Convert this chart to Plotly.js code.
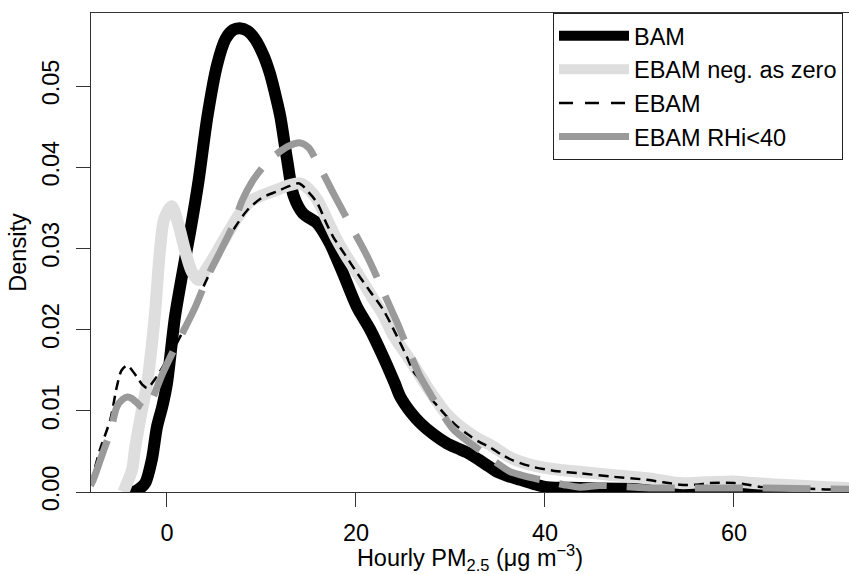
<!DOCTYPE html>
<html><head><meta charset="utf-8">
<script src="https://cdn.plot.ly/plotly-3.0.1.min.js"></script>
<style>html,body{margin:0;padding:0;background:#fff}#chart{width:849px;height:574px}</style>
</head><body><div id="chart"></div>
<script>
const seriesNames = ["BAM", "EBAM neg. as zero", "EBAM", "EBAM RHi<40"];

const bamX = [-4.0, -3.3, -2.8, -2.3, -1.6, -1.06, -0.5, 0, 0.85, 1.9, 2.43, 3.3, 4.3, 5.3, 6.2, 7.0, 7.7, 8.5, 9.3, 10.2, 10.9, 11.6, 12.0, 12.7, 13.4, 14.4, 15.9, 17.2, 18.6, 20.1, 21.5, 22.9, 24.1, 24.7, 25.8, 26.8, 28.2, 29.6, 30.7, 31.7, 33.1, 34.0, 34.9, 36.0, 37.4, 38.8, 40.2, 43.7, 48, 52, 56, 60, 65, 70, 74];
const bamY = [0, 0.0001, 0.0005, 0.0011, 0.004, 0.008, 0.0105, 0.0134, 0.0216, 0.0286, 0.0319, 0.038, 0.0464, 0.0526, 0.0558, 0.0569, 0.0571, 0.0568, 0.0558, 0.0538, 0.0515, 0.0483, 0.0462, 0.041, 0.0365, 0.0343, 0.0331, 0.0307, 0.027, 0.0228, 0.02, 0.0166, 0.0134, 0.0117, 0.0098, 0.0085, 0.0071, 0.006, 0.0054, 0.0049, 0.0039, 0.0032, 0.0025, 0.002, 0.0015, 0.001, 0.0006, 0.0005, 0.0004, 0.0004, 0.0003, 0.0002, 0.0002, 0.0001, 0.0001];

const negZeroX = [-4.6, -4.4, -3.7, -3.4, -2.7, -2.1, -1.3, -0.74, -0.3, 0.5, 1.2, 1.9, 2.6, 3.3, 4.2, 5.4, 6.5, 7.5, 8.8, 10, 11.6, 13, 14.1, 15, 15.9, 17, 18, 19, 20.4, 21.6, 22.9, 24, 25.7, 27.5, 28.5, 29.6, 30.5, 31.7, 33, 34.2, 35.4, 36.6, 38.7, 41, 43.7, 47, 50.8, 52.5, 54.3, 57, 59.9, 62, 64.9, 68, 72, 74];
const negZeroY = [0, 0.0006, 0.0027, 0.0052, 0.0098, 0.0134, 0.0216, 0.0298, 0.0336, 0.0352, 0.033, 0.0298, 0.0272, 0.0261, 0.0275, 0.0298, 0.032, 0.0339, 0.0358, 0.0365, 0.0372, 0.0378, 0.038, 0.0373, 0.036, 0.0334, 0.031, 0.029, 0.0265, 0.0242, 0.0218, 0.0192, 0.0163, 0.013, 0.0113, 0.0096, 0.0086, 0.0075, 0.0065, 0.0058, 0.0049, 0.0041, 0.0033, 0.0028, 0.0025, 0.0021, 0.0017, 0.0014, 0.0011, 0.0012, 0.0013, 0.0011, 0.0009, 0.0007, 0.0005, 0.0004];

const ebamX = [-8.1, -7.9, -7.1, -6.0, -5.3, -4.8, -4.2, -3.7, -3.2, -2.6, -2.1, -1.2, -0.2, 0.8, 1.6, 2.7, 3.7, 5.4, 7.2, 8.5, 10, 11.6, 13, 14, 15, 15.9, 16.9, 17.6, 18.8, 20.1, 21.5, 22.9, 24.2, 25.4, 26.1, 27.1, 27.8, 28.7, 29.6, 30.5, 31.7, 33, 34.2, 35.4, 36.6, 38.7, 41, 43.7, 47, 50.8, 52.5, 54.3, 56, 57.5, 60, 61.5, 63, 65.5, 68, 70, 74];
const ebamY = [0.0012, 0.0018, 0.0052, 0.0089, 0.013, 0.015, 0.0156, 0.015, 0.0142, 0.0132, 0.0128, 0.014, 0.0159, 0.0178, 0.0196, 0.0222, 0.0249, 0.029, 0.0326, 0.0347, 0.0362, 0.037, 0.0377, 0.038, 0.0369, 0.0356, 0.033, 0.0314, 0.0293, 0.027, 0.0247, 0.0224, 0.0195, 0.0166, 0.0148, 0.0134, 0.0117, 0.0105, 0.0093, 0.0083, 0.0072, 0.0062, 0.0055, 0.0046, 0.0039, 0.0031, 0.0026, 0.0023, 0.0019, 0.0015, 0.0012, 0.0009, 0.0009, 0.0011, 0.0011, 0.0009, 0.0006, 0.0005, 0.0004, 0.0003, 0.0003];

const rhiX = [-8.1, -7.8, -6.8, -6.0, -5.3, -4.7, -4.2, -3.7, -3.2, -2.6, -2.1, -1.5, -0.5, 0.6, 1.6, 3.0, 4.5, 5.5, 6.9, 8, 9, 10, 10.9, 11.8, 12.7, 13.5, 14.1, 15, 15.8, 16.5, 17.6, 18.8, 20.1, 21.2, 22.2, 23.3, 24.3, 25.3, 26, 26.8, 28, 29.2, 30.3, 31.2, 32.1, 33.5, 35, 36.3, 37.4, 38.4, 40, 42, 43.7, 45.8, 48, 51.4, 56, 62, 68, 74];
const rhiY = [0.0008, 0.0015, 0.0048, 0.0074, 0.0105, 0.0114, 0.0117, 0.0115, 0.011, 0.0104, 0.0103, 0.0116, 0.0145, 0.0172, 0.0195, 0.0228, 0.027, 0.0293, 0.0326, 0.036, 0.0382, 0.0398, 0.041, 0.0418, 0.0425, 0.0429, 0.043, 0.0424, 0.0408, 0.0393, 0.0368, 0.0342, 0.0314, 0.029, 0.0265, 0.0236, 0.021, 0.0182, 0.0163, 0.0142, 0.0118, 0.0095, 0.0077, 0.0068, 0.006, 0.0048, 0.0035, 0.0025, 0.0021, 0.0018, 0.0014, 0.0009, 0.0006, 0.0008, 0.0007, 0.0005, 0.0005, 0.0005, 0.0004, 0.0003];

const xTicks = [0, 20, 40, 60];
const yTicks = [0, 0.01, 0.02, 0.03, 0.04, 0.05];
const yTickText = ["0.00", "0.01", "0.02", "0.03", "0.04", "0.05"];

const FONT = "Liberation Sans, Arial, Helvetica, sans-serif";
const FS = 23.5;

const styles = [
  {color: "#000000", width: 12},
  {color: "#dedede", width: 12},
  {color: "#000000", width: 2.5, dash: "10px,6px"},
  {color: "#9a9a9a", width: 7, dash: "48px,20px"}
];
const legendStyles = [
  {color: "#000000", width: 12},
  {color: "#dedede", width: 12},
  {color: "#000000", width: 2.5, dash: "14px,12px"},
  {color: "#9a9a9a", width: 7}
];
const seriesX = [bamX, negZeroX, ebamX, rhiX];
const seriesY = [bamY, negZeroY, ebamY, rhiY];

const traces = [];
seriesNames.forEach((nm, i) => {
  traces.push({x: seriesX[i], y: seriesY[i], name: nm, mode: "lines", showlegend: false,
    line: Object.assign({shape: "spline", smoothing: 0.8}, styles[i])});
});
seriesNames.forEach((nm, i) => {
  traces.push({x: [null], y: [null], name: nm, mode: "lines", showlegend: true,
    hoverinfo: "skip", line: legendStyles[i]});
});

const layout = {
  width: 849, height: 574,
  margin: {l: 91, r: 0, t: 13, b: 82},
  paper_bgcolor: "#ffffff", plot_bgcolor: "#ffffff",
  font: {family: FONT, size: FS, color: "#000000"},
  showlegend: true,
  legend: {x: 0.6095, y: 1, xanchor: "left", yanchor: "top", traceorder: "normal",
    bordercolor: "#222222", borderwidth: 1, bgcolor: "#ffffff",
    font: {family: FONT, size: FS, color: "#000000"}, itemwidth: 70},
  xaxis: {range: [-8.04, 72.17], tickvals: xTicks, ticktext: xTicks.map(String),
    ticks: "outside", ticklen: 14, tickwidth: 1, tickcolor: "#333333",
    showline: true, linecolor: "#333333", linewidth: 1, mirror: true,
    showgrid: false, zeroline: false, ticklabelstandoff: 6,
    title: {text: "Hourly PM<sub>2.5</sub> (\u03bcg m<sup>\u22123</sup>)", font: {family: FONT, size: FS}, standoff: 4}},
  yaxis: {range: [0, 0.05899], tickvals: yTicks, ticktext: yTickText, tickangle: -90,
    ticks: "outside", ticklen: 14, tickwidth: 1, tickcolor: "#333333",
    showline: true, linecolor: "#333333", linewidth: 1, mirror: false,
    showgrid: false, zeroline: false, ticklabelstandoff: 8,
    title: {text: "Density", font: {family: FONT, size: FS}, standoff: 4}}
};

Plotly.newPlot("chart", traces, layout, {displayModeBar: false, staticPlot: true});
</script>
</body></html>
